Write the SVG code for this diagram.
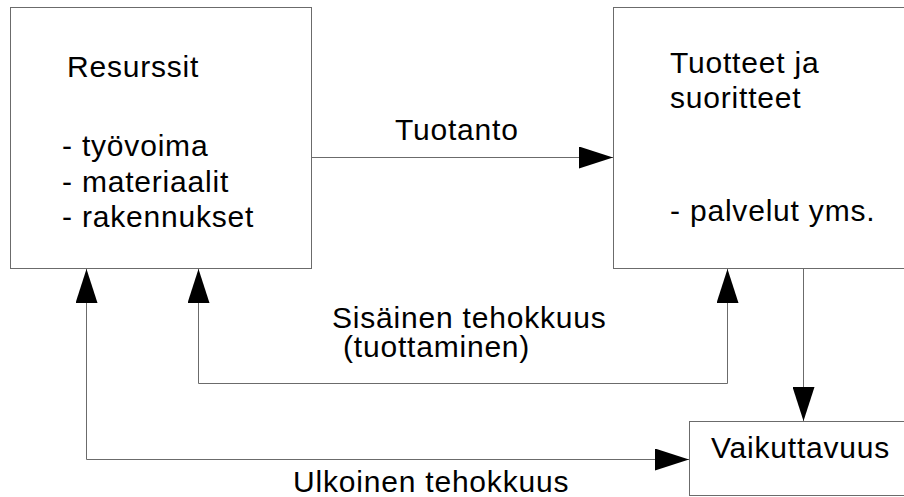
<svg xmlns="http://www.w3.org/2000/svg" width="904" height="497" viewBox="0 0 904 497">
  <style>
    .box { fill: #ffffff; stroke: #6b6b6b; stroke-width: 1; }
    .conn { fill: none; stroke: #6b6b6b; stroke-width: 1; }
    text { font-family: "Liberation Sans", Arial, sans-serif; font-size: 30px; letter-spacing: 0.8px; fill: #000000; }
  </style>
  <defs>
    <marker id="arrow" markerUnits="userSpaceOnUse" markerWidth="34" markerHeight="22" refX="34" refY="11" orient="auto-start-reverse">
      <path d="M0,0 L34,11 L0,22 Z" fill="#000000"/>
    </marker>
  </defs>

  <rect width="904" height="497" fill="#ffffff"/>

  <g id="resurssit">
    <rect class="box" x="10.5" y="7.5" width="301" height="261"/>
    <text x="67" y="77">Resurssit</text>
    <text x="62" y="156">- työvoima</text>
    <text x="62" y="192">- materiaalit</text>
    <text x="62" y="227">- rakennukset</text>
  </g>

  <g id="tuotteet">
    <rect class="box" x="613.5" y="7.5" width="310" height="261"/>
    <text x="670" y="73">Tuotteet ja</text>
    <text x="670" y="108">suoritteet</text>
    <text x="670" y="221">- palvelut yms.</text>
  </g>

  <g id="vaikuttavuus">
    <rect class="box" x="689.5" y="421.5" width="234" height="74"/>
    <text x="711" y="458">Vaikuttavuus</text>
  </g>

  <g id="connectors">
    <path class="conn" d="M312,157.5 H613" marker-end="url(#arrow)"/>
    <path class="conn" d="M198.5,269 V383.5 H727.5 V269" marker-start="url(#arrow)" marker-end="url(#arrow)"/>
    <path class="conn" d="M86.5,269 V459.5 H689" marker-start="url(#arrow)" marker-end="url(#arrow)"/>
    <path class="conn" d="M803.5,269 V421" marker-end="url(#arrow)"/>
  </g>

  <g id="labels">
    <text x="395" y="140">Tuotanto</text>
    <text x="332" y="328">Sisäinen tehokkuus</text>
    <text x="343" y="357">(tuottaminen)</text>
    <text x="293" y="492">Ulkoinen tehokkuus</text>
  </g>
</svg>
